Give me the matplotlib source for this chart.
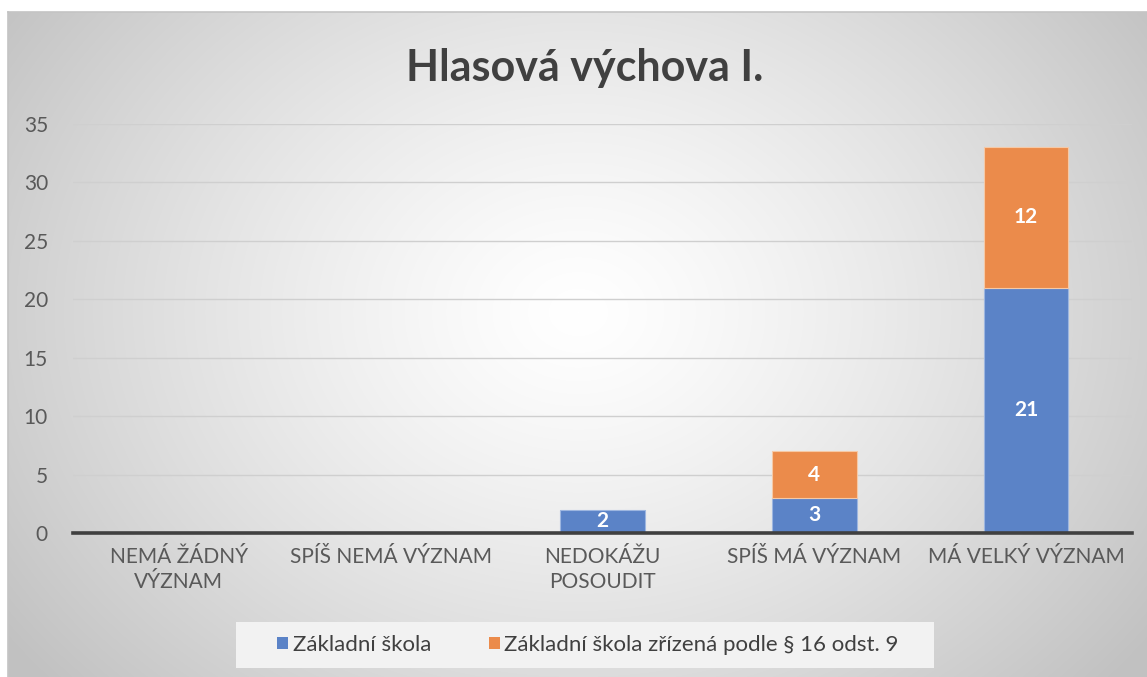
import numpy as np
import matplotlib
matplotlib.use("Agg")
import matplotlib.pyplot as plt
from matplotlib.patches import Patch, Rectangle

categories = ["NEMÁ ŽÁDNÝ\nVÝZNAM", "SPÍŠ NEMÁ VÝZNAM", "NEDOKÁŽU\nPOSOUDIT", "SPÍŠ MÁ VÝZNAM", "MÁ VELKÝ VÝZNAM"]
zakladni = [0, 0, 2, 3, 21]
zakladni16 = [0, 0, 0, 4, 12]
series_names = ["Základní škola", "Základní škola zřízená podle § 16 odst. 9"]
yticks = [0, 5, 10, 15, 20, 25, 30, 35]
title = "Hlasová výchova I."

plt.rcParams['font.family'] = ['Lato', 'DejaVu Sans']

W, H = 1147, 677
fig = plt.figure(figsize=(W / 100, H / 100), dpi=100)
fig.patch.set_facecolor("white")

# background panel with radial gradient
x0, y0 = 8, 12
bg = fig.add_axes([x0 / W, 0, 1 - x0 / W, (H - y0) / H])
bg.set_axis_off()
nx, ny = W - x0, H - y0
xx, yy = np.meshgrid(np.arange(nx), np.arange(ny))
cx, cy = 570, 300
r = np.sqrt(((xx - cx) / 700.0) ** 2 + ((yy - cy) / 560.0) ** 2)
r = np.clip(r, 0, 1)
inner, outer = 1.0, 0.76
val = inner - (inner - outer) * r ** 1.3
img = np.dstack([val, val, val])
bg.imshow(img, aspect="auto", extent=[0, 1, 0, 1], origin="upper")
bg.set_xlim(0, 1)
bg.set_ylim(0, 1)
bg.plot([0, 1], [1, 1], color="#c4c4c4", lw=1.2, transform=bg.transAxes, clip_on=False)
bg.plot([0, 0], [0, 1], color="#c4c4c4", lw=1.2, transform=bg.transAxes, clip_on=False)

# legend background box
fig.patches.append(Rectangle((236 / W, 1 - 668 / H), (934 - 236) / W, 46 / H,
                             transform=fig.transFigure, facecolor="#f2f2f2",
                             edgecolor="none", zorder=1))

left, right = 73 / W, 1132 / W
bottom, top = 1 - 533 / H, 1 - 124 / H
ax = fig.add_axes([left, bottom, right - left, top - bottom])
ax.set_facecolor("none")

x = np.arange(len(categories))
w = 0.4
c1, c2 = "#5B83C7", "#EB8B4B"
lw1 = [0.8 if v > 0 else 0 for v in zakladni]
lw2 = [0.8 if v > 0 else 0 for v in zakladni16]
b1 = ax.bar(x, zakladni, w, color=c1, edgecolor="#9db6e0", linewidth=lw1, zorder=3)
b2 = ax.bar(x, zakladni16, w, bottom=zakladni, color=c2, edgecolor="#f6c9a6", linewidth=lw2, zorder=3)

for i in range(len(categories)):
    if zakladni[i] > 0:
        ax.text(x[i], zakladni[i] / 2, str(zakladni[i]), ha="center", va="center",
                color="white", fontsize=15, fontweight="bold", zorder=4)
    if zakladni16[i] > 0:
        ax.text(x[i], zakladni[i] + zakladni16[i] / 2, str(zakladni16[i]), ha="center", va="center",
                color="white", fontsize=15, fontweight="bold", zorder=4)

ax.set_xlim(-0.5, len(categories) - 0.5)
ax.set_ylim(0, 35)
ax.set_yticks(yticks)
ax.yaxis.grid(True, color="#cfcfcf", lw=1.0, zorder=0)
ax.set_axisbelow(True)
for s in ["top", "right", "left"]:
    ax.spines[s].set_visible(False)
ax.spines["bottom"].set_color("#404040")
ax.spines["bottom"].set_linewidth(2.6)
ax.spines["bottom"].set_zorder(5)
ax.tick_params(axis="both", length=0, labelsize=15, labelcolor="#595959")
ax.tick_params(axis="y", pad=18)
ax.tick_params(axis="x", pad=10)
ax.set_xticks(x)
ax.set_xticklabels(categories, linespacing=1.3)

fig.text(585 / W, 1 - 68 / H, title, ha="center", va="center", fontsize=31,
         fontweight="bold", color="#404040")

handles = [Patch(facecolor=c1, edgecolor="none"), Patch(facecolor=c2, edgecolor="none")]
leg = fig.legend(handles, series_names, loc="center", bbox_to_anchor=(588 / W, 1 - 645 / H),
                 ncol=2, frameon=False, fontsize=16, handlelength=0.5, handleheight=0.5,
                 handletextpad=0.2, columnspacing=2.6, borderpad=0.3,
                 borderaxespad=0)
for t in leg.get_texts():
    t.set_color("#404040")

fig.savefig("out.png", dpi=100)
